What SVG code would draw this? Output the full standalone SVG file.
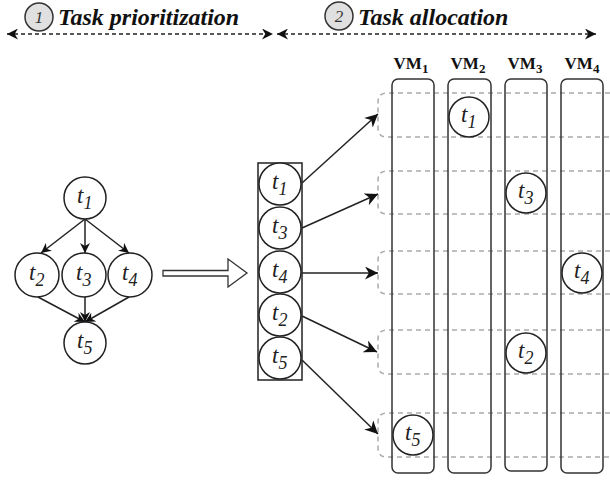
<svg xmlns="http://www.w3.org/2000/svg" width="610" height="481" viewBox="0 0 610 481">
<style>
.node{fill:#fff;stroke:#222;stroke-width:1.5}
.lbl{font-family:'Liberation Serif','Times New Roman','DejaVu Serif',serif;font-style:italic;font-size:23px;fill:#222}
.sub{font-size:18px}
.hdr{font-family:'Liberation Serif','Times New Roman','DejaVu Serif',serif;font-style:italic;font-weight:bold;font-size:24px;fill:#111}
.num{font-family:'Liberation Serif','Times New Roman','DejaVu Serif',serif;font-style:italic;font-size:17px;fill:#333}
.vm{font-family:'Liberation Serif','Times New Roman','DejaVu Serif',serif;font-weight:bold;font-size:17px;fill:#111}
.vmcol{fill:none;stroke:#333;stroke-width:1.5}
.row{fill:none;stroke:#aaa;stroke-width:1.5;stroke-dasharray:5 4}
.edge{fill:none;stroke:#222;stroke-width:1.5}
.hline{fill:none;stroke:#222;stroke-width:1.5;stroke-dasharray:4 3}
</style>
<defs>
<marker id="ah" viewBox="0 0 10 10" refX="10" refY="5" markerWidth="10" markerHeight="10" orient="auto" markerUnits="userSpaceOnUse">
<path d="M0,0 L10,5 L0,10 L3,5 z" fill="#111"/>
</marker>
<marker id="ah2" viewBox="0 0 10 10" refX="10" refY="5" markerWidth="12" markerHeight="11" orient="auto-start-reverse" markerUnits="userSpaceOnUse">
<path d="M0,0 L10,5 L0,10 L3,5 z" fill="#111"/>
</marker>
<marker id="ah3" viewBox="0 0 10 10" refX="10" refY="5" markerWidth="13" markerHeight="13" orient="auto" markerUnits="userSpaceOnUse">
<path d="M0,0 L10,5 L0,10 L3,5 z" fill="#111"/>
</marker>
</defs>

<g id="header1">
<circle cx="39" cy="17" r="14" fill="#e0e0e0" stroke="#333" stroke-width="1.5"/>
<text class="num" x="39" y="23" text-anchor="middle">1</text>
<text class="hdr" x="58" y="25">Task prioritization</text>
</g>
<g id="header2">
<circle cx="339" cy="16" r="14" fill="#e0e0e0" stroke="#333" stroke-width="1.5"/>
<text class="num" x="339" y="22" text-anchor="middle">2</text>
<text class="hdr" x="358" y="25">Task allocation</text>
</g>

<g id="vm-labels">
<text class="vm" x="411" y="69" text-anchor="middle">VM<tspan font-size="13" dy="4">1</tspan></text>
<text class="vm" x="468" y="69" text-anchor="middle">VM<tspan font-size="13" dy="4">2</tspan></text>
<text class="vm" x="525" y="69" text-anchor="middle">VM<tspan font-size="13" dy="4">3</tspan></text>
<text class="vm" x="582" y="69" text-anchor="middle">VM<tspan font-size="13" dy="4">4</tspan></text>
</g>

<g id="rows">
<path class="row" d="M610 93 H387 Q378 93 378 102 V128 Q378 137 387 137 H610"/>
<path class="row" d="M610 171 H387 Q378 171 378 180 V205 Q378 214 387 214 H610"/>
<path class="row" d="M610 251 H387 Q378 251 378 260 V285 Q378 294 387 294 H610"/>
<path class="row" d="M610 330 H387 Q378 330 378 339 V365 Q378 374 387 374 H610"/>
<path class="row" d="M610 413 H387 Q378 413 378 422 V448 Q378 457 387 457 H610"/>
</g>

<g id="vm1"><rect class="vmcol" x="392" y="79" width="42" height="394" rx="6"/></g>
<g id="vm2"><rect class="vmcol" x="448" y="79" width="43" height="394" rx="6"/></g>
<g id="vm3"><rect class="vmcol" x="505" y="79" width="42" height="392" rx="6"/></g>
<g id="vm4"><rect class="vmcol" x="561" y="79" width="42" height="394" rx="6"/></g>

<g id="connectors">
<path class="hline" d="M7 34 H273" marker-start="url(#ah2)" marker-end="url(#ah2)"/>
<path class="hline" d="M277 34 H596" marker-start="url(#ah2)" marker-end="url(#ah2)"/>
<path class="edge" d="M85 219 L41 253" marker-end="url(#ah)"/>
<path class="edge" d="M85 219 V253" marker-end="url(#ah)"/>
<path class="edge" d="M85 219 L129 253" marker-end="url(#ah)"/>
<path class="edge" d="M38 297 L85 322" marker-end="url(#ah)"/>
<path class="edge" d="M85 297 V322" marker-end="url(#ah)"/>
<path class="edge" d="M129 297 L85 322" marker-end="url(#ah)"/>
<polygon points="163,270.5 228,270.5 228,259 247,273 228,287 228,276 163,276" fill="#fff" stroke="#333" stroke-width="1.3"/>
<path class="edge" d="M302 183 L378 114" marker-end="url(#ah3)"/>
<path class="edge" d="M302 228 L378 194" marker-end="url(#ah3)"/>
<path class="edge" d="M302 273 L378 273" marker-end="url(#ah3)"/>
<path class="edge" d="M302 316 L377 352" marker-end="url(#ah3)"/>
<path class="edge" d="M302 360 L378 434" marker-end="url(#ah3)"/>
</g>

<g id="dag-t1"><circle class="node" cx="85" cy="198" r="21"/><text class="lbl" x="77" y="203">t<tspan class="sub" dy="6">1</tspan></text></g>
<g id="dag-t2"><circle class="node" cx="37" cy="275" r="22"/><text class="lbl" x="29" y="280">t<tspan class="sub" dy="6">2</tspan></text></g>
<g id="dag-t3"><circle class="node" cx="84" cy="275" r="22"/><text class="lbl" x="76" y="280">t<tspan class="sub" dy="6">3</tspan></text></g>
<g id="dag-t4"><circle class="node" cx="130" cy="275" r="22"/><text class="lbl" x="122" y="280">t<tspan class="sub" dy="6">4</tspan></text></g>
<g id="dag-t5"><circle class="node" cx="85" cy="343" r="21"/><text class="lbl" x="77" y="348">t<tspan class="sub" dy="6">5</tspan></text></g>

<g id="queue">
<rect x="258" y="163" width="44" height="217" fill="none" stroke="#222" stroke-width="1.5"/>
</g>
<g id="q-t1"><circle class="node" cx="280" cy="184" r="21"/><text class="lbl" x="272" y="189">t<tspan class="sub" dy="6">1</tspan></text></g>
<g id="q-t3"><circle class="node" cx="280" cy="228" r="21"/><text class="lbl" x="272" y="233">t<tspan class="sub" dy="6">3</tspan></text></g>
<g id="q-t4"><circle class="node" cx="280" cy="272" r="21"/><text class="lbl" x="272" y="277">t<tspan class="sub" dy="6">4</tspan></text></g>
<g id="q-t2"><circle class="node" cx="280" cy="315" r="21"/><text class="lbl" x="272" y="320">t<tspan class="sub" dy="6">2</tspan></text></g>
<g id="q-t5"><circle class="node" cx="280" cy="358" r="21"/><text class="lbl" x="272" y="363">t<tspan class="sub" dy="6">5</tspan></text></g>

<g id="a-t1"><circle class="node" cx="469" cy="117" r="20"/><text class="lbl" x="461" y="122">t<tspan class="sub" dy="6">1</tspan></text></g>
<g id="a-t3"><circle class="node" cx="526" cy="193" r="20"/><text class="lbl" x="518" y="198">t<tspan class="sub" dy="6">3</tspan></text></g>
<g id="a-t4"><circle class="node" cx="582" cy="273" r="20"/><text class="lbl" x="574" y="278">t<tspan class="sub" dy="6">4</tspan></text></g>
<g id="a-t2"><circle class="node" cx="526" cy="353" r="20"/><text class="lbl" x="518" y="358">t<tspan class="sub" dy="6">2</tspan></text></g>
<g id="a-t5"><circle class="node" cx="413" cy="435" r="20"/><text class="lbl" x="405" y="440">t<tspan class="sub" dy="6">5</tspan></text></g>
</svg>
